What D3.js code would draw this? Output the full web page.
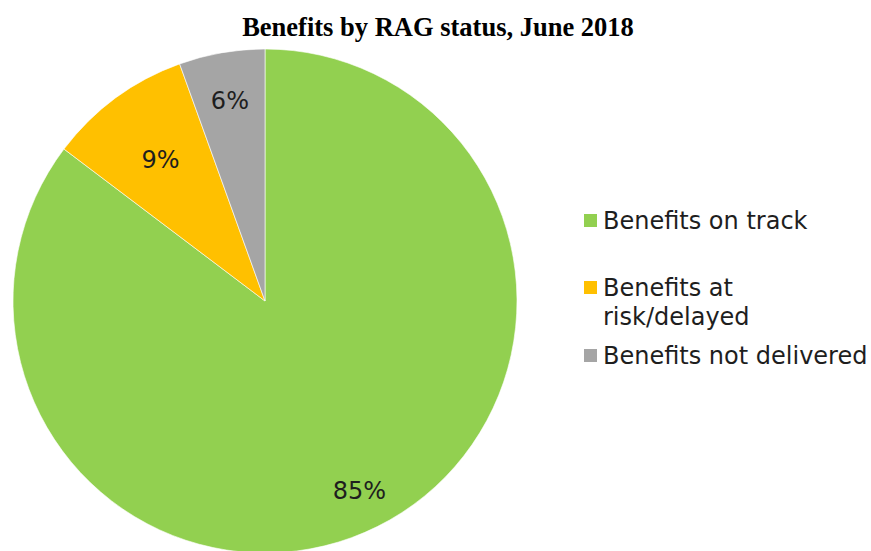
<!DOCTYPE html>
<html lang="en">
<head>
<meta charset="UTF-8" />
<script src="https://d3js.org/d3.v7.min.js"></script>
<style type="text/css">
  body { margin: 0; background: #fff; }
</style>
<title>Benefits by RAG status</title>
</head>
<body>
<script type="text/javascript">
  // data
  var categories = ["Benefits on track", "Benefits at risk/delayed", "Benefits not delivered"];
  var legendLines = [["Benefits on track"], ["Benefits at", "risk/delayed"], ["Benefits not delivered"]];
  var shares = [85.3, 9.2, 5.5];
  var colors = ["#92D050", "#FFC000", "#A5A5A5"];

  var w = 871, h = 551;
  var cx = 265, cy = 301, r = 252;
  // where each % label sits, as a fraction of the radius
  var labelPos = [0.84, 0.70, 0.81];

  var svg = d3.select("body").append("svg")
      .attr("width", w)
      .attr("height", h);

  // title
  svg.append("text")
     .attr("x", 438)
     .attr("y", 36)
     .attr("text-anchor", "middle")
     .attr("font-family", "'Liberation Serif', 'Times New Roman', serif")
     .attr("font-weight", "bold")
     .attr("font-size", "26.5px")
     .attr("fill", "#000")
     .text("Benefits by RAG status, June 2018");

  var pie = d3.pie().sort(null).value(function(d) { return d; });
  var arc = d3.arc().innerRadius(0).outerRadius(r);

  var g = svg.append("g")
      .attr("transform", "translate(" + cx + "," + cy + ")");

  var arcs = pie(shares);

  g.selectAll(".slice")
   .data(arcs)
   .enter()
   .append("path")
   .attr("class", "slice")
   .attr("d", arc)
   .attr("fill", function(d, i) { return colors[i]; })
   .attr("stroke", "#fff")
   .attr("stroke-width", 0.6);

  g.selectAll(".pct")
   .data(arcs)
   .enter()
   .append("text")
   .attr("class", "pct")
   .attr("transform", function(d, i) {
      var rr = r * labelPos[i];
      return "translate(" + d3.arc().innerRadius(rr).outerRadius(rr).centroid(d) + ")";
   })
   .attr("dy", "0.36em")
   .attr("text-anchor", "middle")
   .attr("font-family", "'DejaVu Sans', Verdana, sans-serif")
   .attr("font-size", "24px")
   .attr("fill", "#1e1e1e")
   .text(function(d) { return Math.round(d.data) + "%"; });

  // legend
  var legendTop = [229, 296, 364];
  var legend = svg.selectAll(".legend")
      .data(categories)
      .enter()
      .append("g")
      .attr("class", "legend");

  legend.append("rect")
     .attr("x", 584)
     .attr("y", function(d, i) { return legendTop[i] - 15; })
     .attr("width", 13)
     .attr("height", 13)
     .attr("fill", function(d, i) { return colors[i]; });

  legend.each(function(d, i) {
    var t = d3.select(this).append("text")
      .attr("x", 603)
      .attr("y", legendTop[i])
      .attr("font-family", "'DejaVu Sans', Verdana, sans-serif")
      .attr("font-size", "24px")
      .attr("fill", "#1e1e1e");
    legendLines[i].forEach(function(line, j) {
      t.append("tspan")
       .attr("x", 603)
       .attr("dy", j === 0 ? 0 : 29)
       .text(line);
    });
  });
</script>
</body>
</html>
